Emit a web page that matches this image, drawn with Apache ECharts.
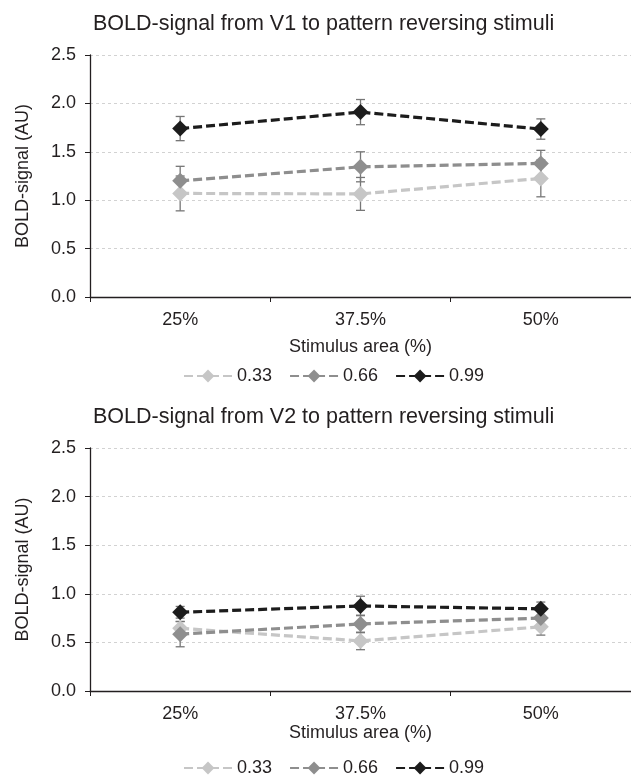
<!DOCTYPE html>
<html>
<head>
<meta charset="utf-8">
<script src="https://cdn.jsdelivr.net/npm/echarts@6/dist/echarts.min.js"></script>
<style>
  html, body { margin: 0; padding: 0; background: #fff; }
  #main { width: 631px; height: 777px; }
</style>
</head>
<body>
<div id="main"></div>
<script type="text/javascript">
// stimulus area categories
var categories = ['25%', '37.5%', '50%'];
var legendNames = ['0.33', '0.66', '0.99'];
var yTicks = [0, 0.5, 1.0, 1.5, 2.0, 2.5];

// V1 means and error (+/-)
var v1_033 = [1.07, 1.065, 1.225];
var v1_033_err = [0.18, 0.17, 0.19];
var v1_066 = [1.20, 1.345, 1.38];
var v1_066_err = [0.15, 0.155, 0.135];
var v1_099 = [1.74, 1.91, 1.735];
var v1_099_err = [0.125, 0.13, 0.105];

// V2 means and error (+/-)
var v2_033 = [0.645, 0.515, 0.66];
var v2_033_err = [0.07, 0.09, 0.085];
var v2_066 = [0.585, 0.69, 0.75];
var v2_066_err = [0.13, 0.09, 0.08];
var v2_099 = [0.81, 0.875, 0.845];
var v2_099_err = [0.06, 0.1, 0.07];

var colors = ['#c6c6c6', '#8e8e8e', '#1c1c1c'];
var FONT = '"Liberation Sans", Arial, sans-serif';
var TXT = '#231f20';

function errData(vals, errs) {
	var out = [];
	for (var i = 0; i < vals.length; i++) {
		out.push([i, vals[i] - errs[i], vals[i] + errs[i]]);
	}
	return out;
}

function renderErr(params, api) {
	var x = api.value(0);
	var lo = api.coord([x, api.value(1)]);
	var hi = api.coord([x, api.value(2)]);
	var w = 4.5;
	var st = { stroke: '#767676', lineWidth: 1.3 };
	return {
		type: 'group',
		children: [
			{ type: 'line', shape: { x1: hi[0], y1: hi[1], x2: lo[0], y2: lo[1] }, style: st },
			{ type: 'line', shape: { x1: hi[0] - w, y1: hi[1], x2: hi[0] + w, y2: hi[1] }, style: st },
			{ type: 'line', shape: { x1: lo[0] - w, y1: lo[1], x2: lo[0] + w, y2: lo[1] }, style: st }
		]
	};
}

function lineSeries(name, data, idx, color) {
	return {
		name: name,
		type: 'line',
		xAxisIndex: idx,
		yAxisIndex: idx,
		data: data,
		symbol: 'diamond',
		symbolSize: 16,
		showSymbol: true,
		z: 3,
		itemStyle: { color: color, borderWidth: 0 },
		lineStyle: { color: color, width: 3.2, type: [9, 4] }
	};
}

function errSeries(vals, errs, idx) {
	return {
		type: 'custom',
		xAxisIndex: idx,
		yAxisIndex: idx,
		renderItem: renderErr,
		encode: { x: 0, y: [1, 2] },
		data: errData(vals, errs),
		z: 2,
		silent: true
	};
}

function xAxisCfg(idx, nameGap) {
	return {
		gridIndex: idx,
		type: 'category',
		data: categories,
		boundaryGap: true,
		name: 'Stimulus area (%)',
		nameLocation: 'middle',
		nameGap: nameGap,
		nameTextStyle: { color: TXT, fontSize: 18, fontFamily: FONT },
		axisLine: { lineStyle: { color: '#231f20', width: 1.3 } },
		axisTick: { show: true, length: 5, lineStyle: { color: '#231f20' } },
		axisLabel: { color: TXT, fontSize: 18, fontFamily: FONT, margin: 14 },
		splitLine: { show: false }
	};
}

function yAxisCfg(idx) {
	return {
		gridIndex: idx,
		type: 'value',
		min: yTicks[0],
		max: yTicks[yTicks.length - 1],
		interval: 0.5,
		name: 'BOLD-signal (AU)',
		nameLocation: 'middle',
		nameGap: 58,
		nameTextStyle: { color: TXT, fontSize: 18, fontFamily: FONT },
		axisLine: { show: true, lineStyle: { color: '#231f20', width: 1.3 } },
		axisTick: { show: true, length: 5, lineStyle: { color: '#231f20' } },
		axisLabel: {
			color: TXT, fontSize: 18, fontFamily: FONT, margin: 14,
			formatter: function (v) { return v.toFixed(1); }
		},
		splitLine: { show: true, lineStyle: { color: '#d2d2d2', type: [3, 3], width: 1 } }
	};
}

function legendCfg(top) {
	return {
		data: legendNames,
		top: top,
		left: 183,
		padding: 0,
		itemWidth: 48,
		itemHeight: 16,
		itemGap: 17,
		textStyle: { color: TXT, fontSize: 18, fontFamily: FONT }
	};
}

var option = {
	animation: false,
	backgroundColor: '#fff',
	title: [
		{ text: 'BOLD-signal from V1 to pattern reversing stimuli', left: 88, top: 8,
		  textStyle: { color: TXT, fontSize: 21.5, fontWeight: 'normal', fontFamily: FONT } },
		{ text: 'BOLD-signal from V2 to pattern reversing stimuli', left: 88, top: 401,
		  textStyle: { color: TXT, fontSize: 21.5, fontWeight: 'normal', fontFamily: FONT } }
	],
	legend: [legendCfg(367), legendCfg(759)],
	grid: [
		{ left: 90, right: -2, top: 55, height: 242 },
		{ left: 90, right: -2, top: 448, height: 243 }
	],
	xAxis: [xAxisCfg(0, 41), xAxisCfg(1, 32)],
	yAxis: [yAxisCfg(0), yAxisCfg(1)],
	series: [
		errSeries(v1_033, v1_033_err, 0),
		errSeries(v1_066, v1_066_err, 0),
		errSeries(v1_099, v1_099_err, 0),
		lineSeries('0.33', v1_033, 0, colors[0]),
		lineSeries('0.66', v1_066, 0, colors[1]),
		lineSeries('0.99', v1_099, 0, colors[2]),
		errSeries(v2_033, v2_033_err, 1),
		errSeries(v2_066, v2_066_err, 1),
		errSeries(v2_099, v2_099_err, 1),
		lineSeries('0.33', v2_033, 1, colors[0]),
		lineSeries('0.66', v2_066, 1, colors[1]),
		lineSeries('0.99', v2_099, 1, colors[2])
	]
};

var myChart = echarts.init(document.getElementById('main'), null, { renderer: 'canvas' });
myChart.setOption(option);
</script>
</body>
</html>
